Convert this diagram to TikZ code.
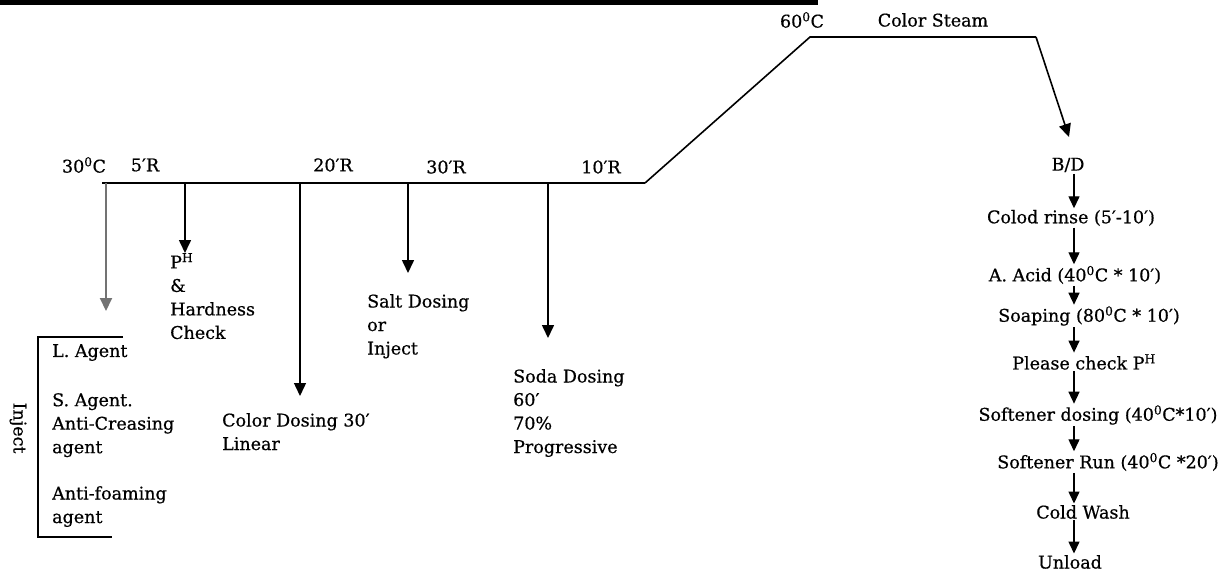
\documentclass[tikz,border=0pt]{standalone}
\usepackage{fontspec}
\setmainfont{DejaVu Serif}[FakeBold=0.6]
\usetikzlibrary{arrows.meta}
\newcommand{\dg}{\textsuperscript{0}}
\newcommand{\mn}{′}
\tikzset{
  lbl/.style={inner sep=0pt, font=\fontsize{17.5}{23.5}\selectfont},
  mlbl/.style={lbl, align=left, anchor=north west},
  rc/.style={inner sep=1.5pt, font=\fontsize{17.5}{23.5}\selectfont},
  arr/.style={line width=1.6pt, -{Triangle[width=12pt,length=13pt]}},
  sarr/.style={line width=1.4pt, -{Triangle[width=11pt,length=12pt]}},
}
\begin{document}
\begin{tikzpicture}[x=1pt,y=-1pt]
\useasboundingbox (0,0) rectangle (1232,571);
% top black bar
\fill[black] (0,0) rectangle (818,5);

% main temperature profile
\coordinate (m0) at (102,183);
\coordinate (m1) at (645,183);
\coordinate (u0) at (810,37);
\coordinate (u1) at (1036,37);
\coordinate (bdtip) at (1069,137);
\draw[line width=2.8pt] (m0) -- (m1);
\draw[line width=1.6pt] (m1) -- (u0) -- (u1);
\draw[arr] (u1) -- (bdtip);

% labels on profile
\node[lbl] (t30) at (84,165) {30\dg C};
\node[lbl] (r5) at (145,165) {5\mn R};
\node[lbl] (r20) at (333,165) {20\mn R};
\node[lbl] (r30) at (446,167) {30\mn R};
\node[lbl] (r10) at (601,167) {10\mn R};
\node[lbl] (t60) at (802,20) {60\dg C};
\node[lbl] (cs) at (933,20) {Color Steam};

% drop points on main line
\coordinate (a1) at (106,183);
\coordinate (a2) at (185,183);
\coordinate (a3) at (300,183);
\coordinate (a4) at (408,183);
\coordinate (a5) at (548,183);
\coordinate (e1) at (106,311);
\coordinate (e2) at (185,253);
\coordinate (e3) at (300,396);
\coordinate (e4) at (408,273);
\coordinate (e5) at (548,338);
\draw[arr, draw=black!55, line width=2pt] (a1) -- (e1);
\draw[arr] (a2) -- (e2);
\draw[arr, line width=1.4pt] (a3) -- (e3);
\draw[arr] (a4) -- (e4);
\draw[arr] (a5) -- (e5);

% texts below
\node[mlbl] (ph) at (170,253) {P\textsuperscript{H}\\\&\\Hardness\\Check};
\node[mlbl] (salt) at (367,294) {Salt Dosing\\or\\Inject};
\node[mlbl] (cd) at (222,413) {Color Dosing 30\mn\\Linear};
\node[mlbl] (soda) at (513,369) {Soda Dosing\\60\mn\\70\%\\Progressive};

% inject bracket
\coordinate (b0) at (123,337);
\coordinate (b1) at (38,337);
\coordinate (b2) at (38,537);
\coordinate (b3) at (112,537);
\draw[line width=1.3pt] (b0) -- (b1) -- (b2) -- (b3);
\node[mlbl] (ag) at (52,344) {L. Agent};
\node[mlbl] (sag) at (52,393) {S. Agent.\\Anti-Creasing\\agent};
\node[mlbl] (afa) at (52,486) {Anti-foaming\\agent};
\node[lbl, rotate=-90] (inj) at (18,428) {Inject};

% right column
\coordinate (rx) at (1074,0);
\node[rc] (bd) at (1068,165) {B/D};
\node[rc] (rinse) at (1071,218) {Colod rinse (5\mn-10\mn)};
\node[rc] (acid) at (1075,275) {A. Acid (40\dg C * 10\mn)};
\node[rc] (soap) at (1089,316) {Soaping (80\dg C * 10\mn)};
\node[rc] (pch) at (1084,362) {Please check P\textsuperscript{H}};
\node[rc] (sdos) at (1098,415) {Softener dosing (40\dg C*10\mn)};
\node[rc] (srun) at (1108,462) {Softener Run (40\dg C *20\mn)};
\node[rc] (cw) at (1083,512) {Cold Wash};
\node[rc] (ul) at (1070,562) {Unload};
\draw[sarr] (bd.south -| rx) -- (rinse.north -| rx);
\draw[sarr] (rinse.south -| rx) -- (acid.north -| rx);
\draw[sarr] (acid.south -| rx) -- (soap.north -| rx);
\draw[sarr] (soap.south -| rx) -- (pch.north -| rx);
\draw[sarr] (pch.south -| rx) -- (sdos.north -| rx);
\draw[sarr] (sdos.south -| rx) -- (srun.north -| rx);
\draw[sarr] (srun.south -| rx) -- (cw.north -| rx);
\draw[sarr] (cw.south -| rx) -- (ul.north -| rx);
\end{tikzpicture}
\end{document}
